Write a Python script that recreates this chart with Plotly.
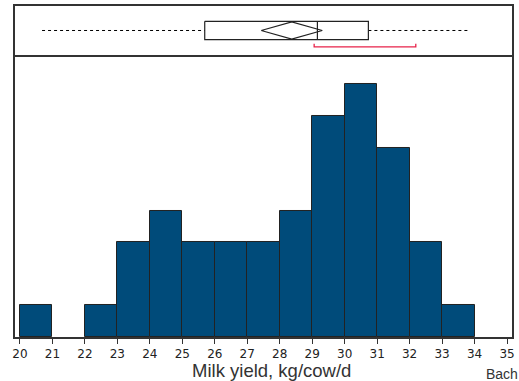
import plotly.graph_objects as go
from plotly.subplots import make_subplots

# Histogram data (bins of 1 kg)
bin_starts = [20, 21, 22, 23, 24, 25, 26, 27, 28, 29, 30, 31, 32, 33]
counts = [1, 0, 1, 3, 4, 3, 3, 3, 4, 7, 8, 6, 3, 1]
tick_vals = list(range(20, 36))

# Box plot summary
whisker_low = 20.68
q1 = 25.69
median = 29.16
q3 = 30.73
whisker_high = 33.83
mean = 28.37
mean_ci = 0.94
short_low = 29.06
short_high = 32.19

fig = make_subplots(rows=2, cols=1, shared_xaxes=True, vertical_spacing=0,
                    row_heights=[0.148, 0.852])

bar_color = "#004b7a"
line_col = "#333333"

fig.add_trace(go.Bar(x=[b + 0.5 for b in bin_starts], y=counts, width=1,
                     marker=dict(color=bar_color,
                                 line=dict(color="#222222", width=[1 if c > 0 else 0 for c in counts])),
                     showlegend=False, hoverinfo="skip"), row=2, col=1)

# top panel: y coords in pixels from divider
yc = 24
bt, bb = 33, 15
fig.add_trace(go.Scatter(x=[whisker_low, q1], y=[yc, yc], mode="lines",
                         line=dict(color="black", width=1, dash="dot"), showlegend=False), row=1, col=1)
fig.add_trace(go.Scatter(x=[q3, whisker_high], y=[yc, yc], mode="lines",
                         line=dict(color="black", width=1, dash="dot"), showlegend=False), row=1, col=1)
fig.add_trace(go.Scatter(x=[q1, q3, q3, q1, q1], y=[bt, bt, bb, bb, bt], mode="lines",
                         line=dict(color="#222222", width=1.2), showlegend=False), row=1, col=1)
fig.add_trace(go.Scatter(x=[median, median], y=[bt, bb], mode="lines",
                         line=dict(color="#222222", width=1.2), showlegend=False), row=1, col=1)
fig.add_trace(go.Scatter(x=[mean - mean_ci, mean, mean + mean_ci, mean, mean - mean_ci],
                         y=[yc, bt - 0.5, yc, bb + 0.5, yc], mode="lines",
                         line=dict(color="#222222", width=1.2), showlegend=False), row=1, col=1)
fig.add_trace(go.Scatter(x=[short_low, short_low, short_high, short_high], y=[11, 8, 8, 11], mode="lines",
                         line=dict(color="#e8234a", width=1.3), showlegend=False), row=1, col=1)

xr = [19.847, 35.153]
fig.update_xaxes(range=xr, showgrid=False, zeroline=False, showline=True,
                 linecolor=line_col, linewidth=1.5)
fig.update_xaxes(row=1, col=1, showticklabels=False, ticks="", mirror=True)
fig.update_xaxes(row=2, col=1, mirror=False, tickvals=tick_vals, ticks="outside", ticklen=5,
                 tickcolor=line_col,
                 tickfont=dict(family="DejaVu Sans", size=12, color="#222222"))
fig.update_yaxes(showgrid=False, zeroline=False, showticklabels=False, ticks="",
                 showline=True, mirror=True, linecolor=line_col, linewidth=1.5)
fig.update_yaxes(row=1, col=1, range=[0, 48])
fig.update_yaxes(row=2, col=1, range=[0, 8.93])

fig.add_annotation(text="Milk yield, kg/cow/d", xref="paper", yref="paper", x=0.516, y=-0.063,
                   xanchor="center", yanchor="top", showarrow=False,
                   font=dict(family="Liberation Sans", size=18.5, color="#333333"))
fig.add_annotation(text="Bach", xref="paper", yref="paper", x=0.944, y=-0.083,
                   xanchor="left", yanchor="top", showarrow=False,
                   font=dict(family="Liberation Sans", size=14, color="#333333"))

fig.update_layout(width=519, height=381, margin=dict(l=15, r=4, t=6, b=44),
                  plot_bgcolor="white", paper_bgcolor="white", bargap=0)

fig.write_html("out.html")
